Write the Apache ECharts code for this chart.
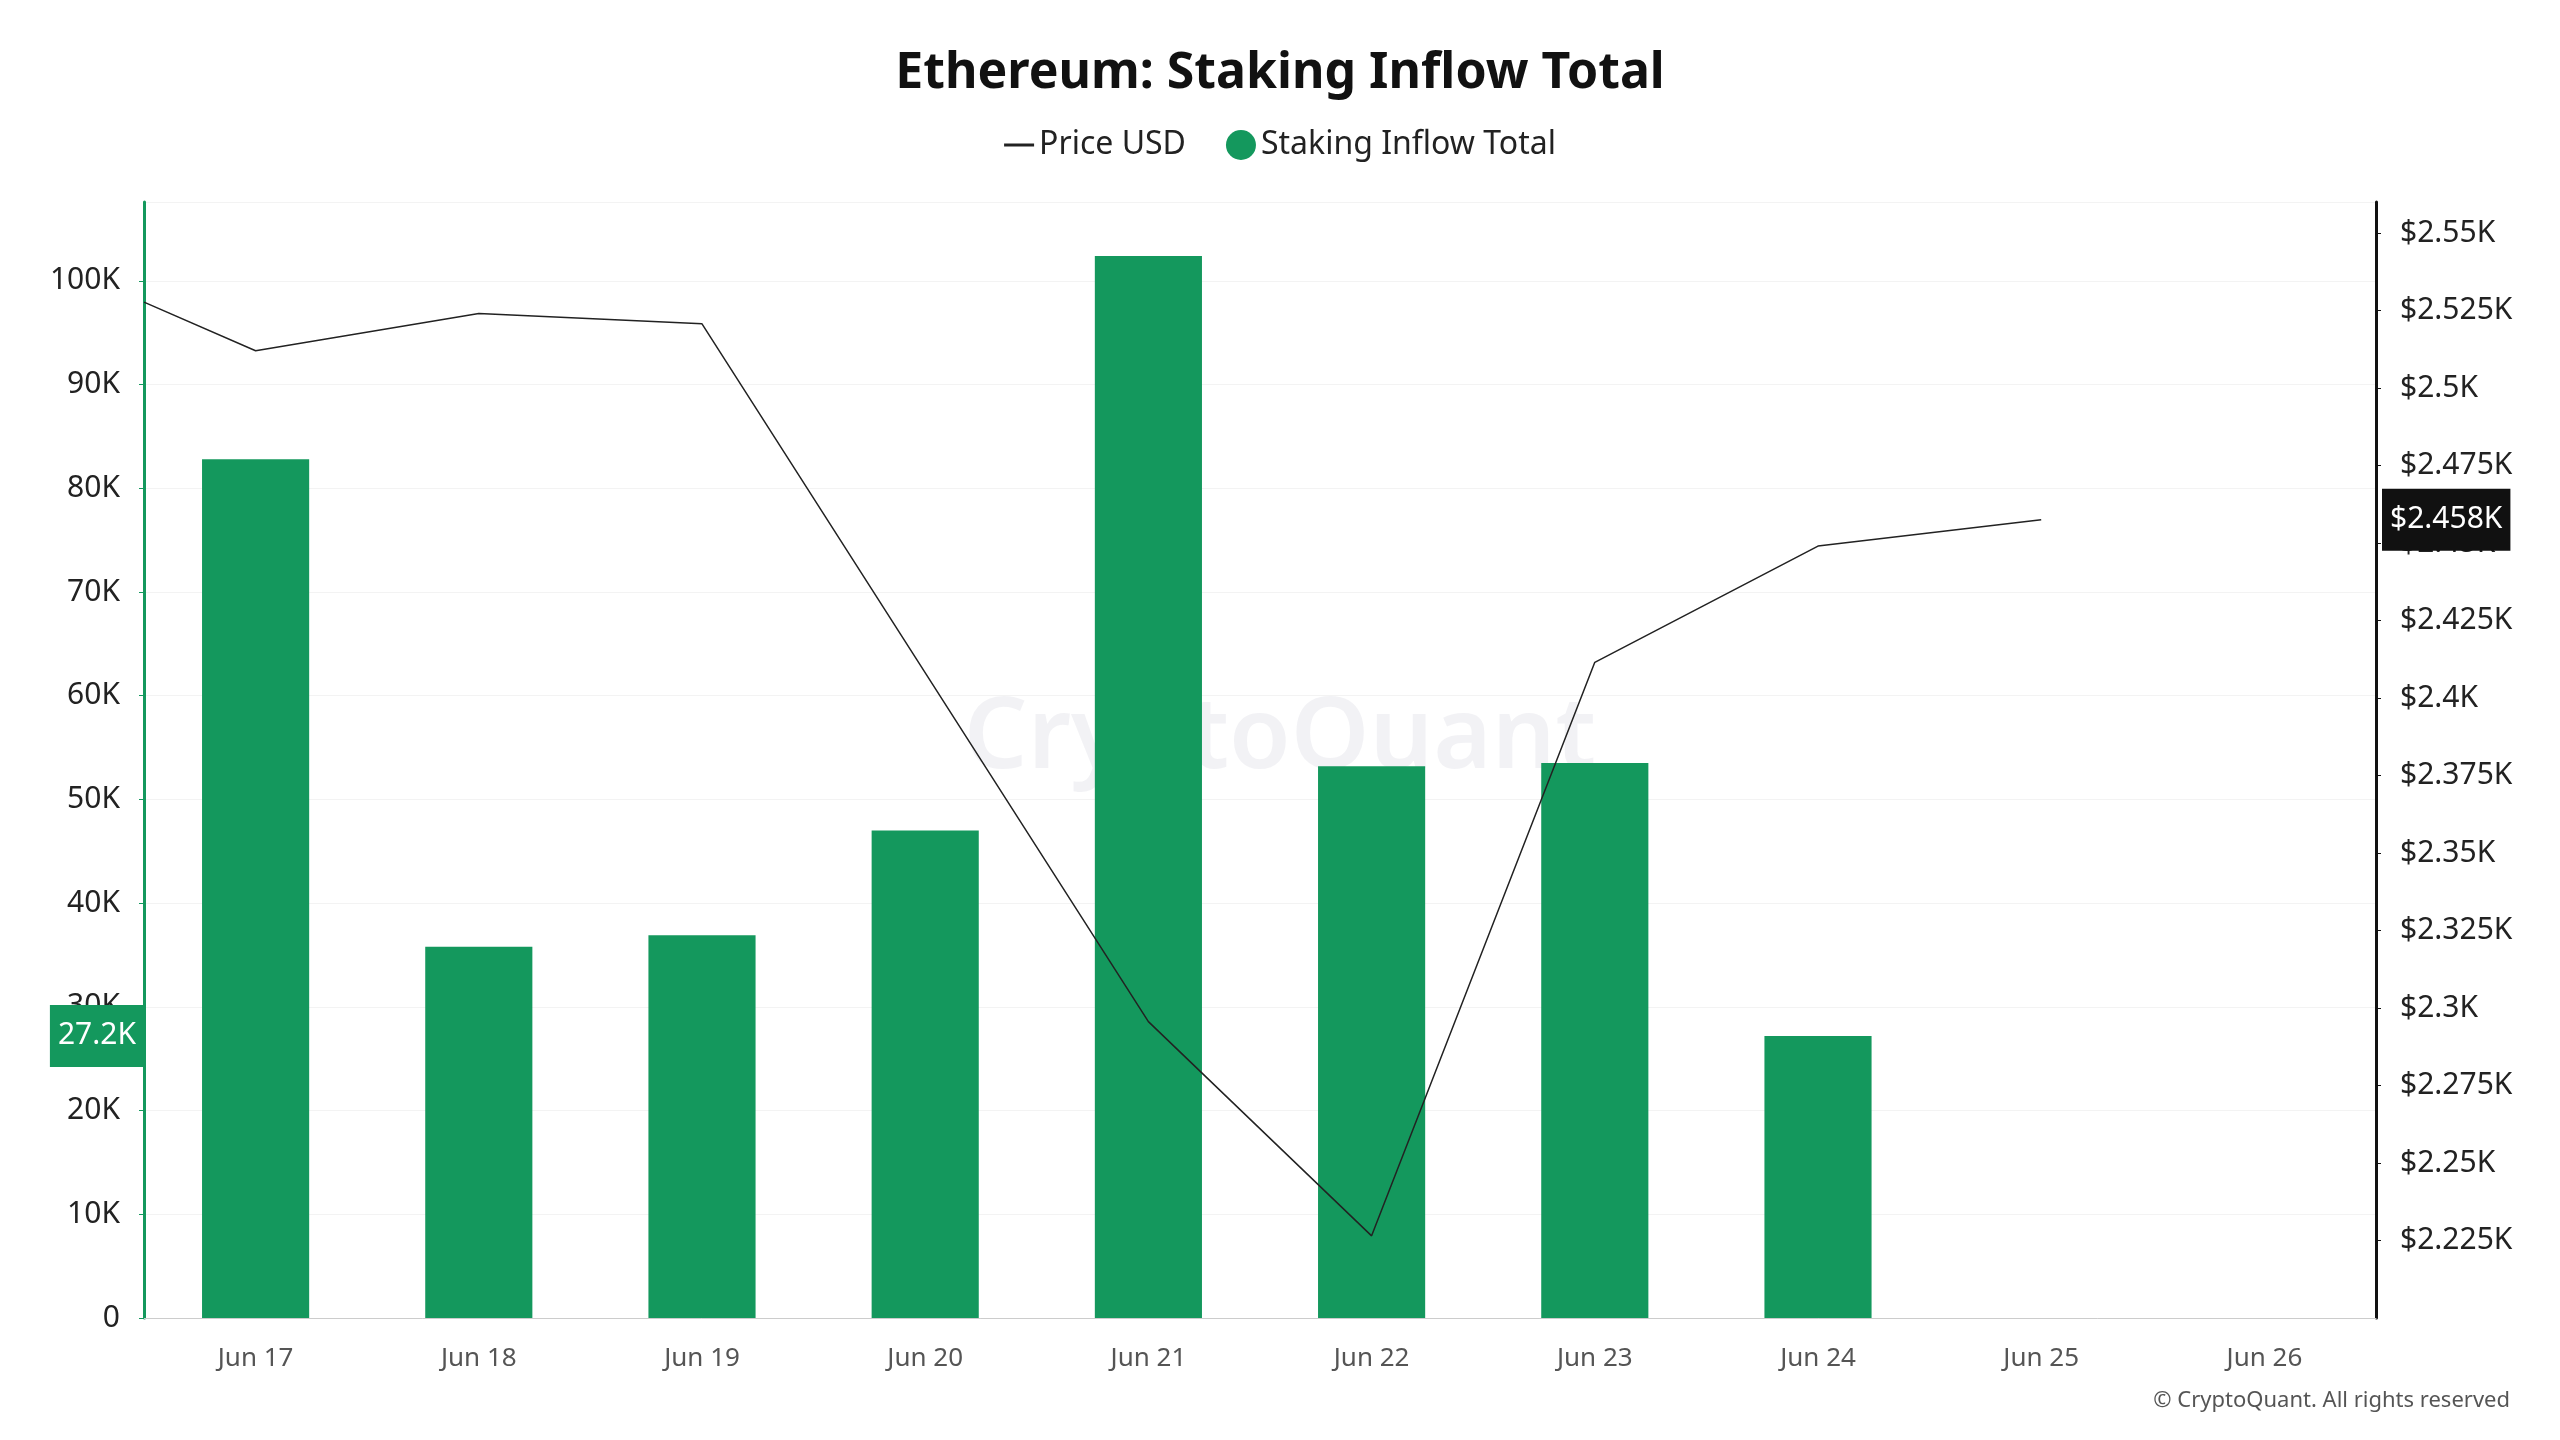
<!DOCTYPE html>
<html lang="en">
  <head>
    <meta charset="UTF-8" />
    <title>Ethereum: Staking Inflow Total</title>
    <style>
      html, body { margin: 0; width: 100%; height: 100%; background: #fff; }
      #main { width: 2560px; height: 1440px; }
    </style>
  </head>
  <body>
    <div id="main"></div>
    <script src="https://cdn.jsdelivr.net/npm/echarts@6/dist/echarts.min.js"></script>
    <script>
      // data
      const days = ["Jun 17", "Jun 18", "Jun 19", "Jun 20", "Jun 21", "Jun 22", "Jun 23", "Jun 24", "Jun 25", "Jun 26"];
      const inflow = [82800, 35800, 36900, 47000, 102400, 53200, 53500, 27200, null, null];
      // price points: day index (0 = Jun 17) and price
      const priceDay = [-0.5, 0, 1, 2, 4, 5, 6, 7, 8];
      const price = [2527.7, 2512, 2524, 2520.7, 2295.6, 2226.5, 2411.5, 2449, 2457.5];

      const green = "#14985d";
      const font = "Noto Sans";
      const chart = echarts.init(document.getElementById("main"));

      const fmtK = (v) => (v === 0 ? "0" : v / 1000 + "K");
      const fmtUsd = (v) => "$" + +(v / 1000).toFixed(3) + "K";

      chart.setOption({
        animation: false,
        textStyle: { fontFamily: font },
        title: {
          text: "Ethereum: Staking Inflow Total",
          left: "center",
          top: 44,
          textStyle: { fontSize: 50, fontWeight: "bold", color: "#111", fontFamily: font },
        },
        legend: {
          top: 124,
          left: "center",
          itemGap: 40,
          textStyle: { fontSize: 32, color: "#222" },
          data: [
            { name: "Price USD", icon: "path://M0,0H10V1H0Z" },
            { name: "Staking Inflow Total", icon: "circle" },
          ],
          itemWidth: 30,
          itemHeight: 30,
        },
        graphic: [
          {
            type: "text",
            left: "center",
            top: 690,
            style: { text: "CryptoQuant", fontSize: 100, fontWeight: 600, fontFamily: font, fill: "rgba(90,90,130,0.08)" },
          },
          {
            type: "text",
            right: 50,
            top: 1390,
            style: { text: "© CryptoQuant. All rights reserved", fontSize: 22, fontFamily: font, fill: "#555" },
          },
        ],
        grid: { left: 144, right: 184, top: 202, bottom: 122 },
        xAxis: [
          {
            type: "category",
            data: days,
            axisLine: { lineStyle: { color: "#ccc" } },
            axisTick: { show: false },
            axisLabel: { fontSize: 26, color: "#555", margin: 28 },
          },
          { type: "value", min: -0.5, max: 9.5, show: false },
        ],
        yAxis: [
          {
            type: "value",
            min: 0,
            max: 107600,
            interval: 10000,
            axisLine: { show: true, onZero: false, lineStyle: { color: green, width: 3 } },
            axisLabel: { fontSize: 30, color: "#222", formatter: fmtK, showMaxLabel: false, margin: 24 },
            splitLine: { lineStyle: { color: "#f3f3f3" } },
          },
          {
            type: "value",
            position: "right",
            min: 2200,
            max: 2560,
            interval: 25,
            axisLine: { show: true, onZero: false, lineStyle: { color: "#111", width: 3 } },
            axisLabel: { fontSize: 30, color: "#222", formatter: fmtUsd, showMinLabel: false, showMaxLabel: false, margin: 24 },
            splitLine: { show: false },
          },
        ],
        series: [
          {
            name: "Staking Inflow Total",
            type: "bar",
            data: inflow,
            barWidth: "48%",
            itemStyle: { color: green },
            markLine: {
              silent: true,
              symbol: "none",
              lineStyle: { color: "transparent", width: 0 },
              data: [{ yAxis: inflow[7] }],
              label: {
                show: true,
                position: "start",
                formatter: () => fmtK(inflow[7]),
                backgroundColor: green,
                color: "#fff",
                fontSize: 30,
                padding: [16, 8],
                distance: 0,
              },
            },
          },
          {
            name: "Price USD",
            type: "line",
            xAxisIndex: 1,
            yAxisIndex: 1,
            data: priceDay.map((d, i) => [d, price[i]]),
            symbol: "none",
            lineStyle: { color: "#222", width: 1.5 },
            itemStyle: { color: "#222" },
            markLine: {
              silent: true,
              symbol: "none",
              lineStyle: { color: "transparent", width: 0 },
              data: [{ yAxis: price[price.length - 1] }],
              label: {
                show: true,
                position: "end",
                formatter: () => fmtUsd(price[price.length - 1]),
                backgroundColor: "#111",
                color: "#fff",
                fontSize: 30,
                padding: [16, 8],
                distance: 6,
              },
            },
          },
        ],
      });
    </script>
  </body>
</html>
